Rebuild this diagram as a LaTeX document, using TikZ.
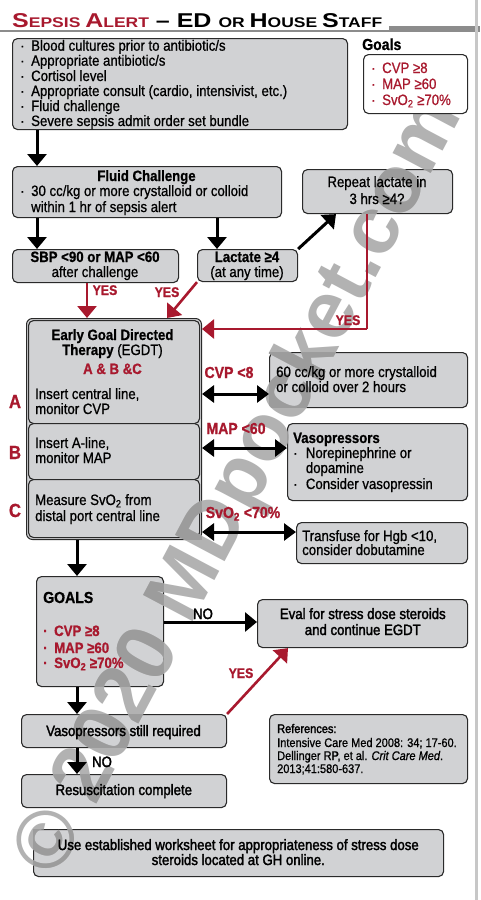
\documentclass[tikz,border=0pt]{standalone}
\usepackage{fontspec}
\setmainfont{Liberation Sans}[FakeStretch=0.88,FakeBold=0.8]
\newfontfamily\medfont{Liberation Sans}[FakeStretch=0.88,FakeBold=2]
\newfontfamily\titlefont{Liberation Sans}[FakeStretch=1.25]
\newfontfamily\wmfont{Liberation Sans}
\usetikzlibrary{arrows.meta}
\definecolor{boxfill}{HTML}{D1D2D4}
\definecolor{boxline}{HTML}{2A2A2A}
\definecolor{sred}{HTML}{A8192E}
\definecolor{wmlight}{HTML}{B2B2B2}
\definecolor{wmdark}{HTML}{9C9C9C}
\newcommand\mybul{\makebox[11pt][l]{·}}
\newcommand\tbig{\fontsize{20}{20}\selectfont}
\newcommand\tsml{\fontsize{14}{14}\selectfont}
\newcommand\wmtext[1]{\pgfsetstrokecolor{#1}\pgfsetfillcolor{#1}\pgfsetlinewidth{0.01pt}\color{#1}© 2020 MDpocket.com}
\tikzset{
  box/.style={draw=boxline, fill=boxfill, line width=1.1pt, rounded corners=5pt, inner sep=0pt},
  bx/.style n args={4}{anchor=north west, at={(#1,#2)}, minimum width={#3-#1}, minimum height={#4-#2}},
  tx/.style={inner sep=0pt, anchor=base west},
  tc/.style={inner sep=0pt, anchor=base},
  bf/.style={font=\fontsize{15}{15}\selectfont\bfseries},
  md/.style={font=\fontsize{15}{15}\selectfont\medfont},
  redlab/.style={tc, text=sred, font=\fontsize{16}{16}\selectfont\bfseries},
  yes/.style={tc, text=sred, font=\fontsize{14}{14}\selectfont\bfseries},
  arr/.style={line width=3pt, -{Triangle[width=19pt,length=12pt]}},
  rarr/.style={sred, line width=2.6pt, -{Triangle[width=19pt,length=12pt]}},
  dbl/.style={line width=3pt, {Triangle[width=17pt,length=12pt]}-{Triangle[width=17pt,length=12pt]}},
  wm/.style={inner sep=0pt, rotate=62.05, line width=0.01pt, font=\wmfont\bfseries\fontsize{81.5}{81.5}\selectfont},
}
\begin{document}
\begin{tikzpicture}[x=1pt, y=-1pt, font=\fontsize{15}{15}\selectfont]
\useasboundingbox (0,0) rectangle (480,900);
\fill[white] (0,0) rectangle (480,900);
% title rule and right bar
\fill[black!45] (0,29.5) rectangle (480,32);
\fill[black!45] (389,26) rectangle (480,32);
\fill[black!22] (474.5,0) rectangle (477.5,900);
\node[tx] (title) at (12,27) {\titlefont\bfseries\color{sred}\tbig S\tsml EPSIS \tbig A\tsml LERT\color{black}\tbig{} – ED \tsml OR \tbig H\tsml OUSE \tbig S\tsml TAFF};

% boxes
\node[box, bx={12}{38}{347}{129}] (b1) {};
\node[box, bx={12}{166}{281}{217}] (fluid) {};
\node[box, bx={302}{169}{452}{213}] (repeat) {};
\node[box, bx={12}{249}{178}{282}] (sbp) {};
\node[box, bx={197}{249}{297}{281}] (lact) {};
\node[box, bx={26}{318}{201}{539}, rounded corners=6pt, line width=1pt] (egdt) {};
\node[box, bx={28}{320}{199}{423}] (ega) {};
\node[box, bx={28}{423}{199}{479}] (egb) {};
\node[box, bx={28}{479}{199}{537}] (egc) {};
\node[box, bx={269}{352}{467}{407}] (cvpbox) {};
\node[box, bx={287}{423}{467}{500}] (vaso) {};
\node[box, bx={296}{522}{467}{563}] (transf) {};
\node[box, bx={36}{576}{163}{686}] (goals) {};
\node[box, bx={257}{599}{467}{647}] (eval) {};
\node[box, bx={21}{714}{226}{747}] (still) {};
\node[box, bx={21}{774}{226}{807}] (resus) {};
\node[box, bx={269}{714}{467}{783}] (refs) {};
\node[box, bx={33}{829}{443}{876}] (bottom) {};

% watermark (over boxes, under connectors and texts)
\node[wm, text=wmlight, draw=none] (wmk) at (241,487) {\wmtext{wmlight}};
\begin{scope}
\clip (12,38) rectangle (347,129) (12,166) rectangle (281,217) (302,169) rectangle (452,213)
  (12,249) rectangle (178,282) (197,249) rectangle (297,281) (26,318) rectangle (201,539)
  (269,352) rectangle (467,407) (287,423) rectangle (467,500) (296,522) rectangle (467,563)
  (36,576) rectangle (163,686) (257,599) rectangle (467,647) (21,714) rectangle (226,747)
  (21,774) rectangle (226,807) (269,714) rectangle (467,783) (33,829) rectangle (443,876);
\node[wm, text=wmdark, draw=none] (wmk2) at (241,487) {\wmtext{wmdark}};
\end{scope}
\node[box, bx={363}{54}{467}{113}, fill=white] (goalsbox) {};

% connectors
\draw[arr] (b1.south -| 37,0) -- (fluid.north -| 37,0);
\draw[arr] (fluid.south -| 37,0) -- (sbp.north -| 37,0);
\draw[arr] (fluid.south -| 217,0) -- (lact.north -| 217,0);
\draw[arr] (lact.north east) -- (repeat.south -| 336,0);
\draw[rarr] (sbp.south -| 87,0) -- (egdt.north -| 87,0);
\draw[rarr] (lact.south west) -- (egdt.north -| 167,0);
\draw[sred, line width=2.6pt] (repeat.south -| 367,0) -- (367,329) coordinate (rc);
\draw[rarr] (rc) -- (egdt.east |- 0,329);
\draw[dbl] (egdt.east |- 0,394) -- (cvpbox.west |- 0,394);
\draw[dbl] (egdt.east |- 0,448) -- (vaso.west |- 0,448);
\draw[dbl] (egdt.east |- 0,532) -- (transf.west |- 0,532);
\draw[arr] (egdt.south -| 77,0) -- (goals.north -| 77,0);
\draw[arr] (goals.east |- 0,622) -- (eval.west |- 0,622);
\draw[arr] (goals.south -| 77,0) -- (still.north -| 77,0);
\draw[rarr] (still.north east) -- (eval.south -| 288,0);
\draw[arr] (still.south -| 77,0) -- (resus.north -| 77,0);

% box 1
\node[tx] (l1) at (20,50.7) {\mybul Blood cultures prior to antibiotic/s};
\node[tx] (l2) at (20,65.7) {\mybul Appropriate antibiotic/s};
\node[tx] (l3) at (20,81) {\mybul Cortisol level};
\node[tx] (l4) at (20,96) {\mybul Appropriate consult (cardio, intensivist, etc.)};
\node[tx] (l5) at (20,111) {\mybul Fluid challenge};
\node[tx] (l6) at (20,126) {\mybul Severe sepsis admit order set bundle};
% goals top
\node[tx, font=\fontsize{16}{16}\selectfont\bfseries] (gl) at (362,50) {Goals};
\node[tx, text=sred] (g1) at (371,73) {\mybul CVP ≥8};
\node[tx, text=sred] (g2) at (371,89) {\mybul MAP ≥60};
\node[tx, text=sred] (g3) at (371,105) {\mybul SvO\textsubscript{2} ≥70\%};
% fluid
\node[tc, bf] (f1) at (146.5,181) {Fluid Challenge};
\node[tx] (f2) at (20,196) {\mybul 30 cc/kg or more crystalloid or colloid};
\node[tx] (f3) at (31,212) {within 1 hr of sepsis alert};
% repeat
\node[tc] (r1) at (377,187) {Repeat lactate in};
\node[tc] (r2) at (377,204) {3 hrs ≥4?};
% sbp, lactate
\node[tc, bf] (s1) at (95,262) {SBP <90 or MAP <60};
\node[tc] (s2) at (95,277) {after challenge};
\node[tc, bf] (la1) at (247,262) {Lactate ≥4};
\node[tc] (la2) at (247,277) {(at any time)};
\node[yes] (y1) at (105,295) {YES};
\node[yes] (y2) at (167,297) {YES};
\node[yes] (y3) at (348,325) {YES};
% egdt
\node[tc, bf] (e1) at (112.5,340) {Early Goal Directed};
\node[tc] (e2) at (112.5,355) {\textbf{Therapy} (EGDT)};
\node[tc, bf, text=sred] (e3) at (112.5,374) {A \& B \&C};
\node[tx] (e4) at (35,399) {Insert central line,};
\node[tx] (e5) at (35,414) {monitor CVP};
\node[tx] (e6) at (35,448) {Insert A-line,};
\node[tx] (e7) at (35,463) {monitor MAP};
\node[tx] (e8) at (35,505) {Measure SvO\textsubscript{2} from};
\node[tx] (e9) at (35,521) {distal port central line};
\node[tc, text=sred, font=\fontsize{19}{19}\selectfont\bfseries] (la) at (15,408) {A};
\node[tc, text=sred, font=\fontsize{19}{19}\selectfont\bfseries] (lb) at (15,459) {B};
\node[tc, text=sred, font=\fontsize{19}{19}\selectfont\bfseries] (lc) at (15,517) {C};
\node[redlab] (c1) at (229,378) {CVP <8};
\node[redlab] (c2) at (236,434) {MAP <60};
\node[redlab] (c3) at (243,518) {SvO\textsubscript{2} <70\%};
% right boxes
\node[tx] (v1) at (276,377) {60 cc/kg or more crystalloid};
\node[tx] (v2) at (276,392) {or colloid over 2 hours};
\node[tx, bf] (v3) at (293,443) {Vasopressors};
\node[tx] (v4) at (293,458) {\makebox[12.7pt][l]{·}Norepinephrine or};
\node[tx] (v5) at (305.7,473) {dopamine};
\node[tx] (v6) at (293,489) {\makebox[12.7pt][l]{·}Consider vasopressin};
\node[tx] (t1) at (302,541) {Transfuse for Hgb <10,};
\node[tx] (t2) at (302,555) {consider dobutamine};
% goals lower
\node[tx, font=\fontsize{16}{16}\selectfont\bfseries] (gg) at (43,603) {GOALS};
\node[tx, bf, text=sred] (gg1) at (43,636) {\mybul CVP ≥8};
\node[tx, bf, text=sred] (gg2) at (43,653) {\mybul MAP ≥60};
\node[tx, bf, text=sred] (gg3) at (43,668) {\mybul SvO\textsubscript{2} ≥70\%};
\node[tc, md] (no1) at (203,619) {NO};
\node[tc, md] (ev1) at (362.8,619) {Eval for stress dose steroids};
\node[tc, md] (ev2) at (362.8,635) {and continue EGDT};
\node[yes] (y4) at (241,678) {YES};
\node[tc, md] (st) at (123.5,736) {Vasopressors still required};
\node[tc, md] (no2) at (102,767) {NO};
\node[tc, md] (rc1) at (123.8,795) {Resuscitation complete};
% references
\node[tx, font=\fontsize{12.5}{12.5}\selectfont\medfont] (rf1) at (277,733) {References:};
\node[tx, font=\fontsize{12.5}{12.5}\selectfont] (rf2) at (277,747) {Intensive Care Med 2008: 34; 17-60.};
\node[tx, font=\fontsize{12.5}{12.5}\selectfont] (rf3) at (277,760) {Dellinger RP, et al. \textit{Crit Care Med}.};
\node[tx, font=\fontsize{12.5}{12.5}\selectfont] (rf4) at (277,773) {2013;41:580-637.};
% bottom
\node[tc, md] (u1) at (238.3,850) {Use established worksheet for appropriateness of stress dose};
\node[tc, md] (u2) at (238.3,865) {steroids located at GH online.};
\end{tikzpicture}
\end{document}
